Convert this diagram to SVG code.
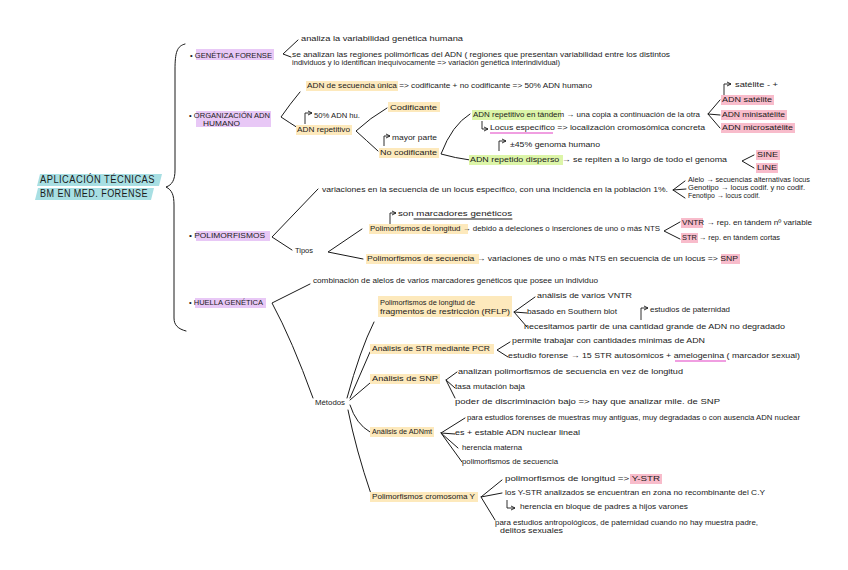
<svg xmlns="http://www.w3.org/2000/svg" width="848" height="570" viewBox="0 0 848 570">
<defs>
<style>
.t{font-family:"Liberation Sans","DejaVu Sans",sans-serif;font-size:8px;fill:#1a1a1a}
.h{font-family:"Liberation Sans","DejaVu Sans",sans-serif;font-size:8px;fill:#1a1a1a}
.ti{font-family:"Liberation Sans","DejaVu Sans",sans-serif;font-size:10px;fill:#1a1a1a;letter-spacing:0.5px}
.ln{stroke:#1a1a1a;stroke-width:1;fill:none;stroke-linecap:round;stroke-linejoin:round}
.ar{stroke:#1a1a1a;stroke-width:0.9;fill:none;marker-end:url(#ah)}
.ul{stroke:#e23fc4;stroke-width:1.2}
.hp{fill:#e8c8f6}
.hy{fill:#fde9bc}
.hg{fill:#dcf5a8}
.hk{fill:#f8bccb}
.hc{fill:#a8dfe3}
</style>
<marker id="ah" markerWidth="6" markerHeight="6" refX="5" refY="3" orient="auto" markerUnits="userSpaceOnUse">
<path d="M1,1 L5,3 L1,5" fill="none" stroke="#1a1a1a" stroke-width="0.9"/>
</marker>
</defs>
<rect width="848" height="570" fill="#ffffff"/>

<g id="connectors">
<path class="ln" d="M185,44 C177,46 175,52 175,70 L175,170 C175,180 172,185 166,187 C172,190 174,195 174,205 L174,318 C174,325 178,329 186,331"/>
<path class="ln" d="M298,40 L283,54 L291,57"/>
<path class="ln" d="M300,92 Q290,104 281,117 Q290,123 298,128"/>
<path class="ln" d="M387,108 Q370,118 356,131 Q366,140 378,151"/>
<path class="ln" d="M470,114 Q452,125 441,154 Q455,158 470,160"/>
<path class="ln" d="M720,100 L708,114 L720,128 M708,114 L720,115"/>
<path class="ln" d="M754,155 L742,161 L754,168"/>
<path class="ln" d="M318,189 L272,237 L292,250"/>
<path class="ln" d="M685,181 L673,190 L685,198 M673,190 L686,189"/>
<path class="ln" d="M362,229 L328,252 L363,259"/>
<path class="ln" d="M680,222 L664,231 L680,239"/>
<path class="ln" d="M310,284 L272,303 Q292,340 313,398"/>
<path class="ln" d="M374,322 Q360,350 347,398"/>
<path class="ln" d="M370,352 L350,398"/>
<path class="ln" d="M370,383 L350,400"/>
<path class="ln" d="M370,432 Q356,424 350,405"/>
<path class="ln" d="M371,494 Q356,450 348,410"/>
<path class="ln" d="M535,297 L514,312 L527,327 M514,312 L527,313"/>
<path class="ln" d="M510,342 L497,350 L508,357"/>
<path class="ln" d="M457,372 L446,380 L455,388 M446,380 L455,398"/>
<path class="ln" d="M465,418 L441,433 L455,434 M441,433 L458,448 M441,433 L462,462"/>
<path class="ln" d="M502,480 L481,497 L502,493 M481,497 L495,520"/>
<path class="ar" d="M305,124 V113 H312"/>
<path class="ar" d="M384,146 V136 H390"/>
<path class="ar" d="M499,151 V141 H506"/>
<path class="ar" d="M724,97 V84 H731"/>
<path class="ar" d="M390,226 V213 H396"/>
<path class="ar" d="M641,320 V308 H648"/>
<path class="ar" d="M482,121 V129 H488"/>
<path class="ar" d="M507,500 V508 H515"/>
</g>

<g id="title">
<polygon class="hc" points="40,174 162,174 159,186 37,186"/>
<polygon class="hc" points="38,188 154,188 151,200 35,200"/>
<text class="ti" x="40" y="183" textLength="115" lengthAdjust="spacingAndGlyphs">APLICACIÓN TÉCNICAS</text>
<text class="ti" x="40" y="197" textLength="108" lengthAdjust="spacingAndGlyphs">BM EN MED. FORENSE</text>
</g>

<g id="genetica-forense">
<rect class="hp" x="196" y="49" width="78" height="11"/>
<text class="h" x="190" y="58" textLength="82" lengthAdjust="spacingAndGlyphs">• GENÉTICA FORENSE</text>
<text class="t" x="301" y="41" textLength="162" lengthAdjust="spacingAndGlyphs">analiza la variabilidad genética humana</text>
<text class="t" x="292" y="57" textLength="378" lengthAdjust="spacingAndGlyphs">se analizan las regiones polimórficas del ADN ( regiones que presentan variabilidad entre los distintos</text>
<text class="t" x="292" y="65" textLength="268" lengthAdjust="spacingAndGlyphs">individuos y lo identifican inequívocamente =&gt; variación genética interindividual)</text>
</g>

<g id="organizacion-adn">
<rect class="hp" x="196" y="111" width="75" height="16"/>
<text class="h" x="189" y="118" textLength="81" lengthAdjust="spacingAndGlyphs">• ORGANIZACIÓN ADN</text>
<text class="h" x="203" y="126" textLength="37" lengthAdjust="spacingAndGlyphs">HUMANO</text>
<rect class="hy" x="306" y="81" width="92" height="10"/>
<text class="t" x="307" y="88" textLength="285" lengthAdjust="spacingAndGlyphs">ADN de secuencia única =&gt; codificante + no codificante =&gt; 50% ADN humano</text>
<text class="t" x="314" y="118" textLength="46" lengthAdjust="spacingAndGlyphs">50% ADN hu.</text>
<rect class="hy" x="296" y="125" width="56" height="10"/>
<text class="t" x="297" y="132" textLength="53" lengthAdjust="spacingAndGlyphs">ADN repetitivo</text>
<rect class="hy" x="388" y="102" width="52" height="10"/>
<text class="t" x="390" y="110" textLength="47" lengthAdjust="spacingAndGlyphs">Codificante</text>
<text class="t" x="392" y="140" textLength="45" lengthAdjust="spacingAndGlyphs">mayor parte</text>
<rect class="hy" x="379" y="148" width="60" height="10"/>
<text class="t" x="380" y="155" textLength="57" lengthAdjust="spacingAndGlyphs">No codificante</text>
<rect class="hg" x="472" y="110" width="89" height="10"/>
<text class="t" x="473" y="117" textLength="227" lengthAdjust="spacingAndGlyphs">ADN repetitivo en tándem → una copia a continuación de la otra</text>
<text class="t" x="490" y="130" textLength="215" lengthAdjust="spacingAndGlyphs">Locus específico =&gt; localización cromosómica concreta</text>
<line class="ul" x1="490" y1="133" x2="553" y2="133"/>
<text class="t" x="510" y="147" textLength="90" lengthAdjust="spacingAndGlyphs">±45% genoma humano</text>
<rect class="hg" x="469" y="155" width="94" height="10"/>
<text class="t" x="470" y="162" textLength="257" lengthAdjust="spacingAndGlyphs">ADN repetido disperso → se repiten a lo largo de todo el genoma</text>
<rect class="hk" x="756" y="150" width="24" height="10"/>
<rect class="hk" x="756" y="163" width="22" height="10"/>
<text class="t" x="757" y="157" textLength="21" lengthAdjust="spacingAndGlyphs">SINE</text>
<text class="t" x="757" y="170" textLength="20" lengthAdjust="spacingAndGlyphs">LINE</text>
<text class="t" x="735" y="87" textLength="43" lengthAdjust="spacingAndGlyphs">satélite - +</text>
<rect class="hk" x="721" y="95" width="53" height="10"/>
<rect class="hk" x="721" y="110" width="66" height="10"/>
<rect class="hk" x="721" y="123" width="74" height="10"/>
<text class="t" x="722" y="102" textLength="50" lengthAdjust="spacingAndGlyphs">ADN satélite</text>
<text class="t" x="722" y="117" textLength="63" lengthAdjust="spacingAndGlyphs">ADN minisatélite</text>
<text class="t" x="722" y="130" textLength="71" lengthAdjust="spacingAndGlyphs">ADN microsatélite</text>
</g>

<g id="polimorfismos">
<rect class="hp" x="196" y="231" width="74" height="10"/>
<text class="h" x="189" y="238" textLength="76" lengthAdjust="spacingAndGlyphs">• POLIMORFISMOS</text>
<text class="t" x="322" y="192" textLength="346" lengthAdjust="spacingAndGlyphs">variaciones en la secuencia de un locus específico, con una incidencia en la población 1%.</text>
<text class="t" x="688" y="182" font-size="6.5" textLength="122" lengthAdjust="spacingAndGlyphs">Alelo → secuencias alternativas locus</text>
<text class="t" x="688" y="190" font-size="6.5" textLength="117" lengthAdjust="spacingAndGlyphs">Genotipo → locus codif. y no codif.</text>
<text class="t" x="688" y="198" font-size="6.5" textLength="72" lengthAdjust="spacingAndGlyphs">Fenotipo → locus codif.</text>
<text class="t" x="295" y="253" textLength="18" lengthAdjust="spacingAndGlyphs">Tipos</text>
<text class="t" x="398" y="216" textLength="114" lengthAdjust="spacingAndGlyphs">son marcadores genéticos</text>
<line class="ln" x1="414" y1="219" x2="512" y2="219"/>
<rect class="hy" x="369" y="224" width="99" height="10"/>
<text class="t" x="370" y="231" textLength="290" lengthAdjust="spacingAndGlyphs">Polimorfismos de longitud → debido a deleciones o inserciones de uno o más NTS</text>
<rect class="hk" x="681" y="218" width="22" height="10"/>
<rect class="hk" x="681" y="233" width="17" height="10"/>
<text class="t" x="682" y="225" textLength="130" lengthAdjust="spacingAndGlyphs">VNTR → rep. en tándem nº variable</text>
<text class="t" x="682" y="240" textLength="98" lengthAdjust="spacingAndGlyphs">STR → rep. en tándem cortas</text>
<rect class="hy" x="366" y="254" width="113" height="10"/>
<rect class="hk" x="721" y="254" width="19" height="10"/>
<text class="t" x="367" y="261" textLength="371" lengthAdjust="spacingAndGlyphs">Polimorfismos de secuencia → variaciones de uno o más NTS en secuencia de un locus =&gt; SNP</text>
</g>

<g id="huella-genetica">
<rect class="hp" x="195" y="298" width="71" height="10"/>
<text class="h" x="189" y="305" textLength="74" lengthAdjust="spacingAndGlyphs">• HUELLA GENÉTICA</text>
<text class="t" x="313" y="283" textLength="285" lengthAdjust="spacingAndGlyphs">combinación de alelos de varios marcadores genéticos que posee un individuo</text>
<text class="t" x="315" y="405" textLength="30" lengthAdjust="spacingAndGlyphs">Métodos</text>
</g>

<g id="rflp">
<rect class="hy" x="378" y="296" width="134" height="21"/>
<text class="t" x="380" y="305" textLength="95" lengthAdjust="spacingAndGlyphs">Polimorfismos de longitud de</text>
<text class="t" x="380" y="314" textLength="130" lengthAdjust="spacingAndGlyphs">fragmentos de restricción (RFLP)</text>
<text class="t" x="537" y="298" textLength="95" lengthAdjust="spacingAndGlyphs">análisis de varios VNTR</text>
<text class="t" x="527" y="314" textLength="90" lengthAdjust="spacingAndGlyphs">basado en Southern blot</text>
<text class="t" x="650" y="312" textLength="80" lengthAdjust="spacingAndGlyphs">estudios de paternidad</text>
<text class="t" x="524" y="329" textLength="261" lengthAdjust="spacingAndGlyphs">necesitamos partir de una cantidad grande de ADN no degradado</text>
</g>

<g id="str-pcr">
<rect class="hy" x="370" y="344" width="124" height="10"/>
<text class="t" x="372" y="351" textLength="118" lengthAdjust="spacingAndGlyphs">Análisis de STR mediante PCR</text>
<text class="t" x="512" y="343" textLength="193" lengthAdjust="spacingAndGlyphs">permite trabajar con cantidades mínimas de ADN</text>
<text class="t" x="508" y="358" textLength="292" lengthAdjust="spacingAndGlyphs">estudio forense → 15 STR autosómicos + amelogenina ( marcador sexual)</text>
<line class="ul" x1="675" y1="361" x2="726" y2="361"/>
</g>

<g id="snp">
<rect class="hy" x="370" y="374" width="70" height="10"/>
<text class="t" x="372" y="381" textLength="66" lengthAdjust="spacingAndGlyphs">Análisis de SNP</text>
<text class="t" x="458" y="374" textLength="225" lengthAdjust="spacingAndGlyphs">analizan polimorfismos de secuencia en vez de longitud</text>
<text class="t" x="455" y="389" textLength="70" lengthAdjust="spacingAndGlyphs">tasa mutación baja</text>
<text class="t" x="455" y="404" textLength="265" lengthAdjust="spacingAndGlyphs">poder de discriminación bajo =&gt; hay que analizar mile. de SNP</text>
</g>

<g id="adnmt">
<rect class="hy" x="370" y="427" width="64" height="10"/>
<text class="t" x="372" y="434" textLength="60" lengthAdjust="spacingAndGlyphs">Análisis de ADNmt</text>
<text class="t" x="467" y="420" textLength="333" lengthAdjust="spacingAndGlyphs">para estudios forenses de muestras muy antiguas, muy degradadas o con ausencia ADN nuclear</text>
<text class="t" x="455" y="435" textLength="125" lengthAdjust="spacingAndGlyphs">es + estable ADN nuclear lineal</text>
<text class="t" x="462" y="450" textLength="60" lengthAdjust="spacingAndGlyphs">herencia materna</text>
<text class="t" x="462" y="464" textLength="96" lengthAdjust="spacingAndGlyphs">polimorfismos de secuencia</text>
</g>

<g id="cromosoma-y">
<rect class="hy" x="370" y="492" width="108" height="10"/>
<text class="t" x="372" y="499" textLength="103" lengthAdjust="spacingAndGlyphs">Polimorfismos cromosoma Y</text>
<rect class="hk" x="630" y="474" width="32" height="10"/>
<text class="t" x="505" y="481" textLength="155" lengthAdjust="spacingAndGlyphs">polimorfismos de longitud =&gt; Y-STR</text>
<text class="t" x="505" y="495" textLength="260" lengthAdjust="spacingAndGlyphs">los Y-STR analizados se encuentran en zona no recombinante del C.Y</text>
<text class="t" x="520" y="509" textLength="168" lengthAdjust="spacingAndGlyphs">herencia en bloque de padres a hijos varones</text>
<text class="t" x="495" y="525" textLength="263" lengthAdjust="spacingAndGlyphs">para estudios antropológicos, de paternidad cuando no hay muestra padre,</text>
<text class="t" x="500" y="533" textLength="63" lengthAdjust="spacingAndGlyphs">delitos sexuales</text>
</g>
</svg>
